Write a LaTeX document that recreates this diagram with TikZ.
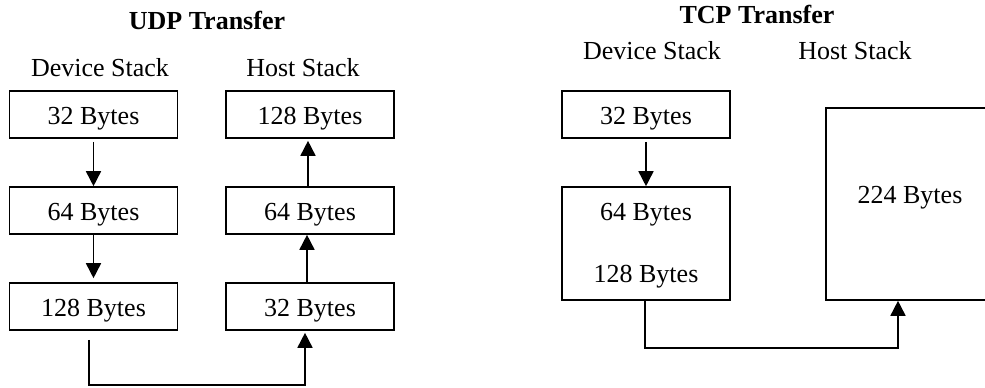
\documentclass[tikz,border=0pt]{standalone}
\usepackage{fontspec}
\setmainfont{Liberation Serif}
\usetikzlibrary{arrows.meta}
\begin{document}
\begin{tikzpicture}[x=0.5pt,y=-0.5pt,
  font=\fontsize{13pt}{15.6pt}\selectfont,
  box/.style={draw,line width=0.8pt,rectangle,inner sep=0pt,minimum width=84pt,minimum height=23.5pt,text height=10pt,text depth=0pt},
  tall/.style={draw,line width=0.8pt,rectangle,inner sep=0pt,minimum width=84pt},
  lbl/.style={anchor=base,inner sep=0pt},
  ttl/.style={anchor=base,inner sep=0pt,font=\fontsize{13pt}{15.6pt}\selectfont\bfseries},
  arr/.style={line width=0.8pt,-{Triangle[width=7.5pt,length=7.5pt]}},
  ln/.style={line width=0.8pt}]
\useasboundingbox (0,0) rectangle (985,387);
\clip (0,0) rectangle (985,387);
% UDP
\node[ttl] (udpt) at (207,29) {UDP Transfer};
\node[lbl] (uds) at (100,76) {Device Stack};
\node[lbl] (uhs) at (303,76) {Host Stack};
\node[box] (d1) at (93.5,114.5) {32 Bytes};
\node[box] (d2) at (93.5,210.5) {64 Bytes};
\node[box] (d3) at (93.5,306.5) {128 Bytes};
\node[box] (h1) at (310,114.5) {128 Bytes};
\node[box] (h2) at (310,210.5) {64 Bytes};
\node[box] (h3) at (310,306.5) {32 Bytes};
\draw[arr] ([yshift=-1.5pt]d1.south) -- (d2.north);
\draw[arr] (d2.south) -- ([yshift=2pt]d3.north);
\draw[arr] ([xshift=-1pt]h2.north) -- ([xshift=-1pt,yshift=-1pt]h1.south);
\draw[arr] ([xshift=-1.5pt]h3.north) -- ([xshift=-1.5pt]h2.south);
\coordinate (ub) at (89,385);
\draw[arr] ([xshift=-2.25pt,yshift=-4.5pt]d3.south) -- (ub) -| ([xshift=-2.5pt,yshift=-1pt]h3.south);
% TCP
\node[ttl] (tcpt) at (757,23) {TCP Transfer};
\node[lbl] (tds) at (652,59) {Device Stack};
\node[lbl] (ths) at (855,59) {Host Stack};
\node[box] (t1) at (646,114.5) {32 Bytes};
\node[tall,minimum height=56.5pt] (t2) at (646,243.5) {};
\node[lbl] (t2a) at (646,220) {64 Bytes};
\node[lbl] (t2b) at (646,282) {128 Bytes};
\node[tall,minimum height=96pt] (th) at (910,204) {};
\node[lbl] (tha) at (910,203) {224 Bytes};
\draw[arr] ([yshift=-1.5pt]t1.south) -- (t2.north);
\coordinate (tb) at (645,348);
\draw[arr] ([xshift=-0.5pt]t2.south) -- (tb) -| ([xshift=-6pt]th.south);
\end{tikzpicture}
\end{document}
